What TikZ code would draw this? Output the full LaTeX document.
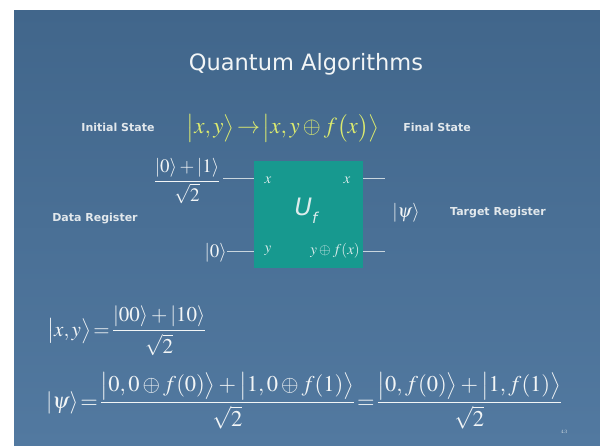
\documentclass[tikz,border=0pt]{standalone}
\usepackage{amsmath}
\usepackage{mathptmx}
\usepackage{fontspec}
\setsansfont{DejaVu Sans}
\usetikzlibrary{calc}
\definecolor{slidetop}{HTML}{41668B}
\definecolor{slidebot}{HTML}{5279A0}
\definecolor{gatefill}{HTML}{17998F}
\definecolor{eqyellow}{HTML}{DCEB6E}
\definecolor{labelgray}{HTML}{E2E8EC}
\definecolor{wiregray}{HTML}{C9D6DE}
\definecolor{mathwhite}{HTML}{F2F5F6}
\tikzset{
  slidelabel/.style={text=labelgray,font=\sffamily\bfseries\fontsize{11}{13}\selectfont,inner sep=0pt},
  mathtext/.style={text=mathwhite,font=\fontsize{19}{22}\selectfont,inner sep=0pt},
  bigmath/.style={text=mathwhite,font=\fontsize{22.5}{26}\selectfont,inner sep=0pt},
  gatelabel/.style={text=mathwhite!90!gatefill,font=\fontsize{15}{18}\selectfont,inner sep=0pt},
  wire/.style={draw=wiregray,line width=1pt},
}
\begin{document}
\begin{tikzpicture}[x=1pt,y=-1pt]
\useasboundingbox (0,0) rectangle (600,445);
\fill[white] (0,0) rectangle (600,445);
\shade[top color=slidetop,bottom color=slidebot] (14,10) rectangle (600,445);
% title
\node[text=mathwhite,font=\sffamily\fontsize{22.5}{27}\selectfont,inner sep=0pt] (title) at (306,64) {Quantum Algorithms};
% top line
\node[slidelabel] (init) at (118,127) {Initial State};
\node[text=eqyellow,font=\fontsize{23}{26}\selectfont,inner sep=0pt] (map) at (283,128)
  {$\bigl|x,y\bigr\rangle\!\rightarrow\!\bigl|x,y\oplus f\bigl(x\bigr)\bigr\rangle$};
\node[slidelabel] (final) at (437,127) {Final State};
% gate
\node[fill=gatefill,minimum width=109pt,minimum height=107pt,inner sep=0pt] (gate) at (308.5,214.5) {};
\node[gatelabel] (xin) at (268,180) {$x$};
\node[gatelabel] (xout) at (347,180) {$x$};
\node[gatelabel] (yin) at (268,251) {$y$};
\node[gatelabel,anchor=east] (yout) at (360,251) {$y\oplus f(x)$};
\node[text=mathwhite!90!gatefill,font=\sffamily\itshape\fontsize{24}{28}\selectfont,inner sep=0pt] (uf) at (306,211) {U\raisebox{-0.35em}{\fontsize{15}{18}\selectfont f}};
% inputs
\node[mathtext] (plus) at (187,181) {$\dfrac{|0\rangle+|1\rangle}{\sqrt{2}}$};
\node[mathtext,anchor=east] (zero) at (227,253) {$|0\rangle$};
\coordinate (tw) at (223,178);
\coordinate (tr) at (385,178);
\coordinate (br) at (385,251);
\draw[wire] (tw) -- (tw -| gate.west);
\draw[wire] (zero.east |- 0,251) -- (gate.west |- 0,251);
\draw[wire] (gate.east |- tr) -- (tr);
\draw[wire] (gate.east |- br) -- (br);
% outputs and side labels
\node[mathtext] (psi) at (406,213) {$|\psi\rangle$};
\node[slidelabel] (data) at (95,219) {Data Register};
\node[slidelabel] (target) at (498,213) {Target Register};
% bottom equations
\node[text=mathwhite,font=\fontsize{21}{24}\selectfont,inner sep=0pt,anchor=west] (eqa) at (47,331) {\thickmuskip=2mu$\bigl|x,y\bigr\rangle=\dfrac{|00\rangle+|10\rangle}{\sqrt{2}}$};
\node[bigmath,anchor=west] (eqb) at (46,401) {\thickmuskip=1.5mu$|\psi\rangle=\dfrac{\bigl|0,0\oplus f(0)\bigr\rangle+\bigl|1,0\oplus f(1)\bigr\rangle}{\sqrt{2}}=\dfrac{\bigl|0,f(0)\bigr\rangle+\bigl|1,f(1)\bigr\rangle}{\sqrt{2}}$};
% page number
\node[text=wiregray,font=\fontsize{5}{6}\selectfont,inner sep=0pt] (pg) at (564,432) {43};
\end{tikzpicture}
\end{document}
